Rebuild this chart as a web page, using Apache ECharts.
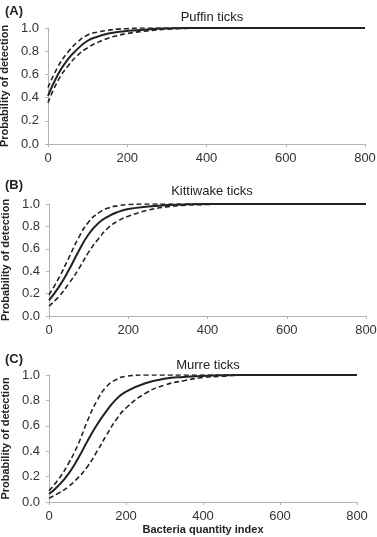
<!DOCTYPE html>
<html>
<head>
<meta charset="utf-8">
<script src="https://cdn.jsdelivr.net/npm/echarts@6/dist/echarts.min.js"></script>
<style>
  html, body { margin: 0; padding: 0; background: #fff; }
  #chart { width: 377px; height: 537px; }
</style>
</head>
<body>
<div id="chart"></div>
<script>
// bacteria quantity index (x) sampled for all curves
var xs = [0, 25, 50, 75, 100, 125, 150, 175, 200, 250, 300, 350, 400, 450, 500, 800];

// (A) Puffin ticks
var puffinFit   = [0.414, 0.60, 0.73, 0.82, 0.89, 0.925, 0.95, 0.965, 0.975, 0.988, 0.996, 1, 1, 1, 1, 1];
var puffinUpper = [0.487, 0.665, 0.79, 0.88, 0.94, 0.965, 0.98, 0.99, 0.995, 1, 1, 1, 1, 1, 1, 1];
var puffinLower = [0.356, 0.545, 0.67, 0.765, 0.83, 0.875, 0.91, 0.935, 0.953, 0.975, 0.99, 0.997, 1, 1, 1, 1];

// (B) Kittiwake ticks
var kittiFit   = [0.14, 0.26, 0.41, 0.58, 0.73, 0.83, 0.89, 0.93, 0.955, 0.978, 0.99, 0.997, 1, 1, 1, 1];
var kittiUpper = [0.19, 0.34, 0.52, 0.70, 0.84, 0.92, 0.965, 0.985, 0.995, 1, 1, 1, 1, 1, 1, 1];
var kittiLower = [0.087, 0.175, 0.29, 0.42, 0.57, 0.69, 0.79, 0.85, 0.89, 0.945, 0.975, 0.99, 0.996, 1, 1, 1];

// (C) Murre ticks
var murreFit   = [0.063, 0.13, 0.22, 0.34, 0.48, 0.61, 0.72, 0.81, 0.87, 0.935, 0.97, 0.985, 0.993, 0.998, 1, 1];
var murreUpper = [0.089, 0.18, 0.30, 0.45, 0.64, 0.80, 0.91, 0.965, 0.99, 1, 1, 1, 1, 1, 1, 1];
var murreLower = [0.03, 0.07, 0.12, 0.19, 0.28, 0.40, 0.53, 0.65, 0.74, 0.855, 0.92, 0.955, 0.98, 0.99, 1, 1];

var panelTitles = ["Puffin ticks", "Kittiwake ticks", "Murre ticks"];
var panelLetters = ["(A)", "(B)", "(C)"];
var xTicks = [0, 200, 400, 600, 800];
var yTicks = [0, 0.2, 0.4, 0.6, 0.8, 1.0];

var font = "Liberation Sans, Arial, sans-serif";
var ink = "#222";
var axisGrey = "#b3b3b3";

var grids = [
  { left: 48, right: 12, top: 28, height: 116, outerBoundsMode: "none" },
  { left: 49, right: 11, top: 204, height: 112, outerBoundsMode: "none" },
  { left: 49, right: 20, top: 375, height: 127, outerBoundsMode: "none" }
];
var titleTops = [6, 180, 354];
var titleCenters = [207, 207, 203];

var pair = function (ys) {
  return xs.map(function (x, i) { return [x, ys[i]]; });
};

var panels = [
  [puffinFit, puffinUpper, puffinLower],
  [kittiFit, kittiUpper, kittiLower],
  [murreFit, murreUpper, murreLower]
];

var xAxes = [], yAxes = [], series = [], titles = [];
for (var i = 0; i < 3; i++) {
  xAxes.push({
    gridIndex: i,
    type: "value",
    min: xTicks[0],
    max: xTicks[xTicks.length - 1],
    interval: 200,
    name: i === 2 ? "Bacteria quantity index" : "",
    nameLocation: "middle",
    nameGap: 22,
    nameTextStyle: { fontFamily: font, fontWeight: "bold", fontSize: 11, color: ink },
    splitLine: { show: false },
    axisLine: { lineStyle: { color: axisGrey, width: 1 } },
    axisTick: { length: 3, lineStyle: { color: axisGrey } },
    axisLabel: { fontFamily: font, fontSize: 13, color: "#333", margin: 8 }
  });
  yAxes.push({
    gridIndex: i,
    type: "value",
    min: yTicks[0],
    max: yTicks[yTicks.length - 1],
    interval: 0.2,
    name: "Probability of detection",
    nameLocation: "middle",
    nameGap: 29,
    nameTextStyle: { fontFamily: font, fontWeight: "bold", fontSize: 11, color: ink },
    splitLine: { show: false },
    axisLine: { show: true, lineStyle: { color: axisGrey, width: 1 } },
    axisTick: { show: true, length: 3, lineStyle: { color: axisGrey } },
    axisLabel: {
      fontFamily: font, fontSize: 13, color: "#333", margin: 9,
      formatter: function (v) { return v.toFixed(1); }
    }
  });
  titles.push({
    text: panelTitles[i],
    left: titleCenters[i],
    textAlign: "center",
    top: titleTops[i],
    textStyle: { fontFamily: font, fontSize: 13, fontWeight: "normal", color: ink }
  });
  titles.push({
    text: panelLetters[i],
    left: 0,
    top: titleTops[i] - 6,
    textStyle: { fontFamily: font, fontSize: 13, fontWeight: "bold", color: ink }
  });

  var curves = panels[i];
  for (var k = 0; k < 3; k++) {
    series.push({
      type: "line",
      xAxisIndex: i,
      yAxisIndex: i,
      data: pair(curves[k]),
      smooth: 0.5,
      symbol: "none",
      silent: true,
      lineStyle: k === 0
        ? { color: ink, width: 2 }
        : { color: ink, width: 1.6, type: [5, 3] }
    });
  }
}

var myChart = echarts.init(document.getElementById("chart"));
myChart.setOption({
  animation: false,
  backgroundColor: "#fff",
  title: titles,
  grid: grids,
  xAxis: xAxes,
  yAxis: yAxes,
  series: series
});
</script>
</body>
</html>
